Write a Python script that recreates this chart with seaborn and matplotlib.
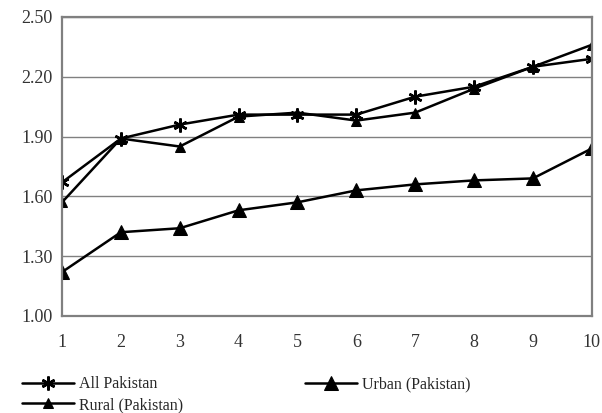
import numpy as np
import pandas as pd
import matplotlib
matplotlib.use("Agg")
import matplotlib.pyplot as plt
import seaborn as sns

# values
groups = [1, 2, 3, 4, 5, 6, 7, 8, 9, 10]
all_pakistan = [1.67, 1.89, 1.96, 2.01, 2.01, 2.01, 2.10, 2.15, 2.25, 2.29]
urban = [1.22, 1.42, 1.44, 1.53, 1.57, 1.63, 1.66, 1.68, 1.69, 1.84]
rural = [1.57, 1.89, 1.85, 2.00, 2.02, 1.98, 2.02, 2.14, 2.25, 2.36]
y_ticks = [1.00, 1.30, 1.60, 1.90, 2.20, 2.50]

sns.set_style("white")
plt.rcParams['font.family'] = ['Liberation Serif', 'DejaVu Serif']

fig = plt.figure(figsize=(6.02, 4.13), dpi=100)
ax = fig.add_axes([0.103, 0.235, 0.880, 0.724])

sns.lineplot(x=groups, y=all_pakistan, ax=ax, color='black', linewidth=1.8,
             marker=(6, 2, 0), markersize=10, markeredgewidth=1.8,
             markeredgecolor='black', label='All Pakistan')
sns.lineplot(x=groups, y=urban, ax=ax, color='black', linewidth=1.8,
             marker='^', markersize=10, markeredgecolor='black',
             label='Urban (Pakistan)')
sns.lineplot(x=groups, y=rural, ax=ax, color='black', linewidth=1.8,
             marker='^', markersize=7, markeredgecolor='black',
             label='Rural (Pakistan)')

ax.set_xlim(1, 10)
ax.set_ylim(1.0, 2.5)
ax.set_xticks(groups)
ax.set_yticks(y_ticks)
ax.set_yticklabels([f'{v:.2f}' for v in y_ticks])
ax.yaxis.grid(True, color='#808080', linewidth=1.0)
ax.set_axisbelow(True)
for sp in ax.spines.values():
    sp.set_color('#808080')
    sp.set_linewidth(1.6)
ax.tick_params(axis='y', length=3, width=0.8, color='#808080', labelsize=13,
               labelcolor='#333333', pad=4)
ax.tick_params(axis='x', length=0, labelsize=13, labelcolor='#333333', pad=13)
ax.set_xlabel('')
ax.set_ylabel('')

handles, labels = ax.get_legend_handles_labels()
ax.get_legend().remove()
order = [0, 2, 1]
fig.legend([handles[i] for i in order], [labels[i] for i in order],
           loc='lower left', bbox_to_anchor=(0.012, -0.035), ncol=2,
           frameon=False, fontsize=11.5, handlelength=3.3, handletextpad=0.3,
           columnspacing=7.6, labelspacing=0.3)

fig.savefig('out.png', dpi=100)
